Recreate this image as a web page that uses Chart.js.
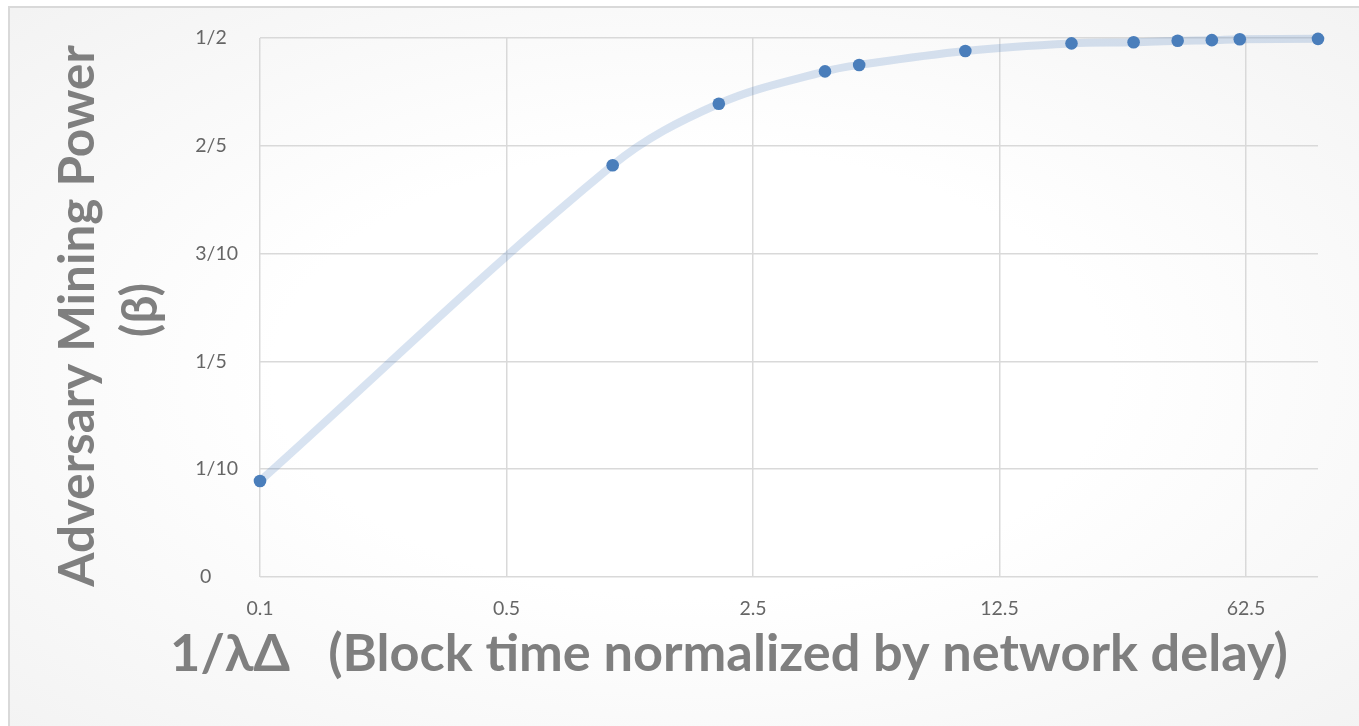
<!DOCTYPE html>
<html lang="en">
<head>
  <meta charset="UTF-8">
  <title>Adversary Mining Power</title>
  <script src="https://cdn.jsdelivr.net/npm/chart.js"></script>
  <style>
    html, body {
      margin: 0;
      padding: 0;
      background: #fff;
      overflow: hidden;
    }

    #frame {
      position: absolute;
      left: 8px;
      top: 6px;
      width: 1420px;
      height: 760px;
      border: 2px solid #d9d9d9;
      background: radial-gradient(ellipse at 48% 48%, #ffffff 40%, #f1f1f1 100%);
    }

    #wrap {
      position: absolute;
      left: 0;
      top: 0;
      width: 1359px;
      height: 726px;
    }
  </style>
  <script>
    // values
    const blockTime = [0.1, 1, 2, 4, 5, 10, 20, 30, 40, 50, 60, 100];
    const beta = [0.089, 0.382, 0.439, 0.469, 0.475, 0.488, 0.495, 0.496, 0.4975, 0.498, 0.4988, 0.4992];

    const xTicks = [0.1, 0.5, 2.5, 12.5, 62.5];
    const xTickLabels = ['0.1', '0.5', '2.5', '12.5', '62.5'];
    const yTicks = [0, 0.1, 0.2, 0.3, 0.4, 0.5];
    const yTickLabels = ['0\u2007\u2007\u2008', '1/10', '1/5\u2007', '3/10', '2/5\u2007', '1/2\u2007'];

    const xTitle = '1/\u03bb\u0394   (Block time normalized by network delay)';
    const yTitle = ['Adversary Mining Power', '(\u03b2)'];

    const titleFamily = 'Lato, "Open Sans", sans-serif';

    // bold font size that makes the text as long as in the picture
    function fitFont(ctx, text, width) {
      ctx.font = 'bold 100px ' + titleFamily;
      const size = 100 * width / ctx.measureText(text).width;
      return 'bold ' + size.toFixed(1) + 'px ' + titleFamily;
    }

    window.onload = function () {
      const axisTitles = {
        id: 'axisTitles',
        afterDraw(chart) {
          const ctx = chart.ctx;
          ctx.save();
          ctx.fillStyle = '#7f7f7f';
          ctx.textAlign = 'center';
          ctx.textBaseline = 'alphabetic';

          ctx.font = fitFont(ctx, xTitle, 1118);
          ctx.fillText(xTitle, 729, 671);

          ctx.font = fitFont(ctx, yTitle[0], 542);
          ctx.save();
          ctx.translate(94, 316);
          ctx.rotate(-Math.PI / 2);
          ctx.fillText(yTitle[0], 0, 0);
          ctx.restore();

          ctx.save();
          ctx.translate(157, 310);
          ctx.rotate(-Math.PI / 2);
          ctx.fillText(yTitle[1], 0, 0);
          ctx.restore();

          ctx.restore();
        }
      };

      const tickFont = { family: 'Lato', size: 19.5 };
      const ctx = document.getElementById('myChart');

      new Chart(ctx, {
        type: 'scatter',
        data: {
          datasets: [{
            data: blockTime.map((x, i) => ({ x: x, y: beta[i] })),
            showLine: true,
            borderColor: 'rgba(79, 129, 189, 0.22)',
            borderWidth: 8,
            tension: 0.35,
            pointRadius: 6.3,
            pointHoverRadius: 6.3,
            pointBorderWidth: 0,
            pointBackgroundColor: '#4a7ebb',
            pointBorderColor: '#4a7ebb',
            clip: false
          }]
        },
        options: {
          responsive: false,
          animation: false,
          devicePixelRatio: 1,
          layout: {
            padding: { left: 0, top: 38, right: 41, bottom: 0 }
          },
          plugins: {
            legend: { display: false },
            tooltip: { enabled: false }
          },
          scales: {
            x: {
              type: 'logarithmic',
              min: 0.1,
              max: 100,
              afterBuildTicks: function (scale) {
                scale.ticks = xTicks.map(v => ({ value: v }));
              },
              afterFit: function (scale) {
                scale.height = 149;
              },
              ticks: {
                color: '#666666',
                font: tickFont,
                padding: 20,
                maxRotation: 0,
                autoSkip: false,
                callback: function (v) {
                  return xTickLabels[xTicks.indexOf(v)];
                }
              },
              grid: { color: '#d9d9d9', lineWidth: 1.5, drawTicks: false },
              border: { display: false }
            },
            y: {
              type: 'linear',
              min: 0,
              max: 0.5,
              afterBuildTicks: function (scale) {
                scale.ticks = yTicks.map(v => ({ value: v }));
              },
              afterFit: function (scale) {
                scale.width = 260;
              },
              ticks: {
                color: '#666666',
                font: tickFont,
                padding: 22,
                callback: function (v) {
                  const i = yTicks.findIndex(t => Math.abs(t - v) < 1e-9);
                  return yTickLabels[i];
                }
              },
              grid: { color: '#d9d9d9', lineWidth: 1.5, drawTicks: false },
              border: { display: false }
            }
          }
        },
        plugins: [axisTitles]
      });
    };
  </script>
</head>

<body>
  <div id="frame"></div>
  <div id="wrap">
    <canvas id="myChart" width="1359" height="726"></canvas>
  </div>
</body>

</html>
